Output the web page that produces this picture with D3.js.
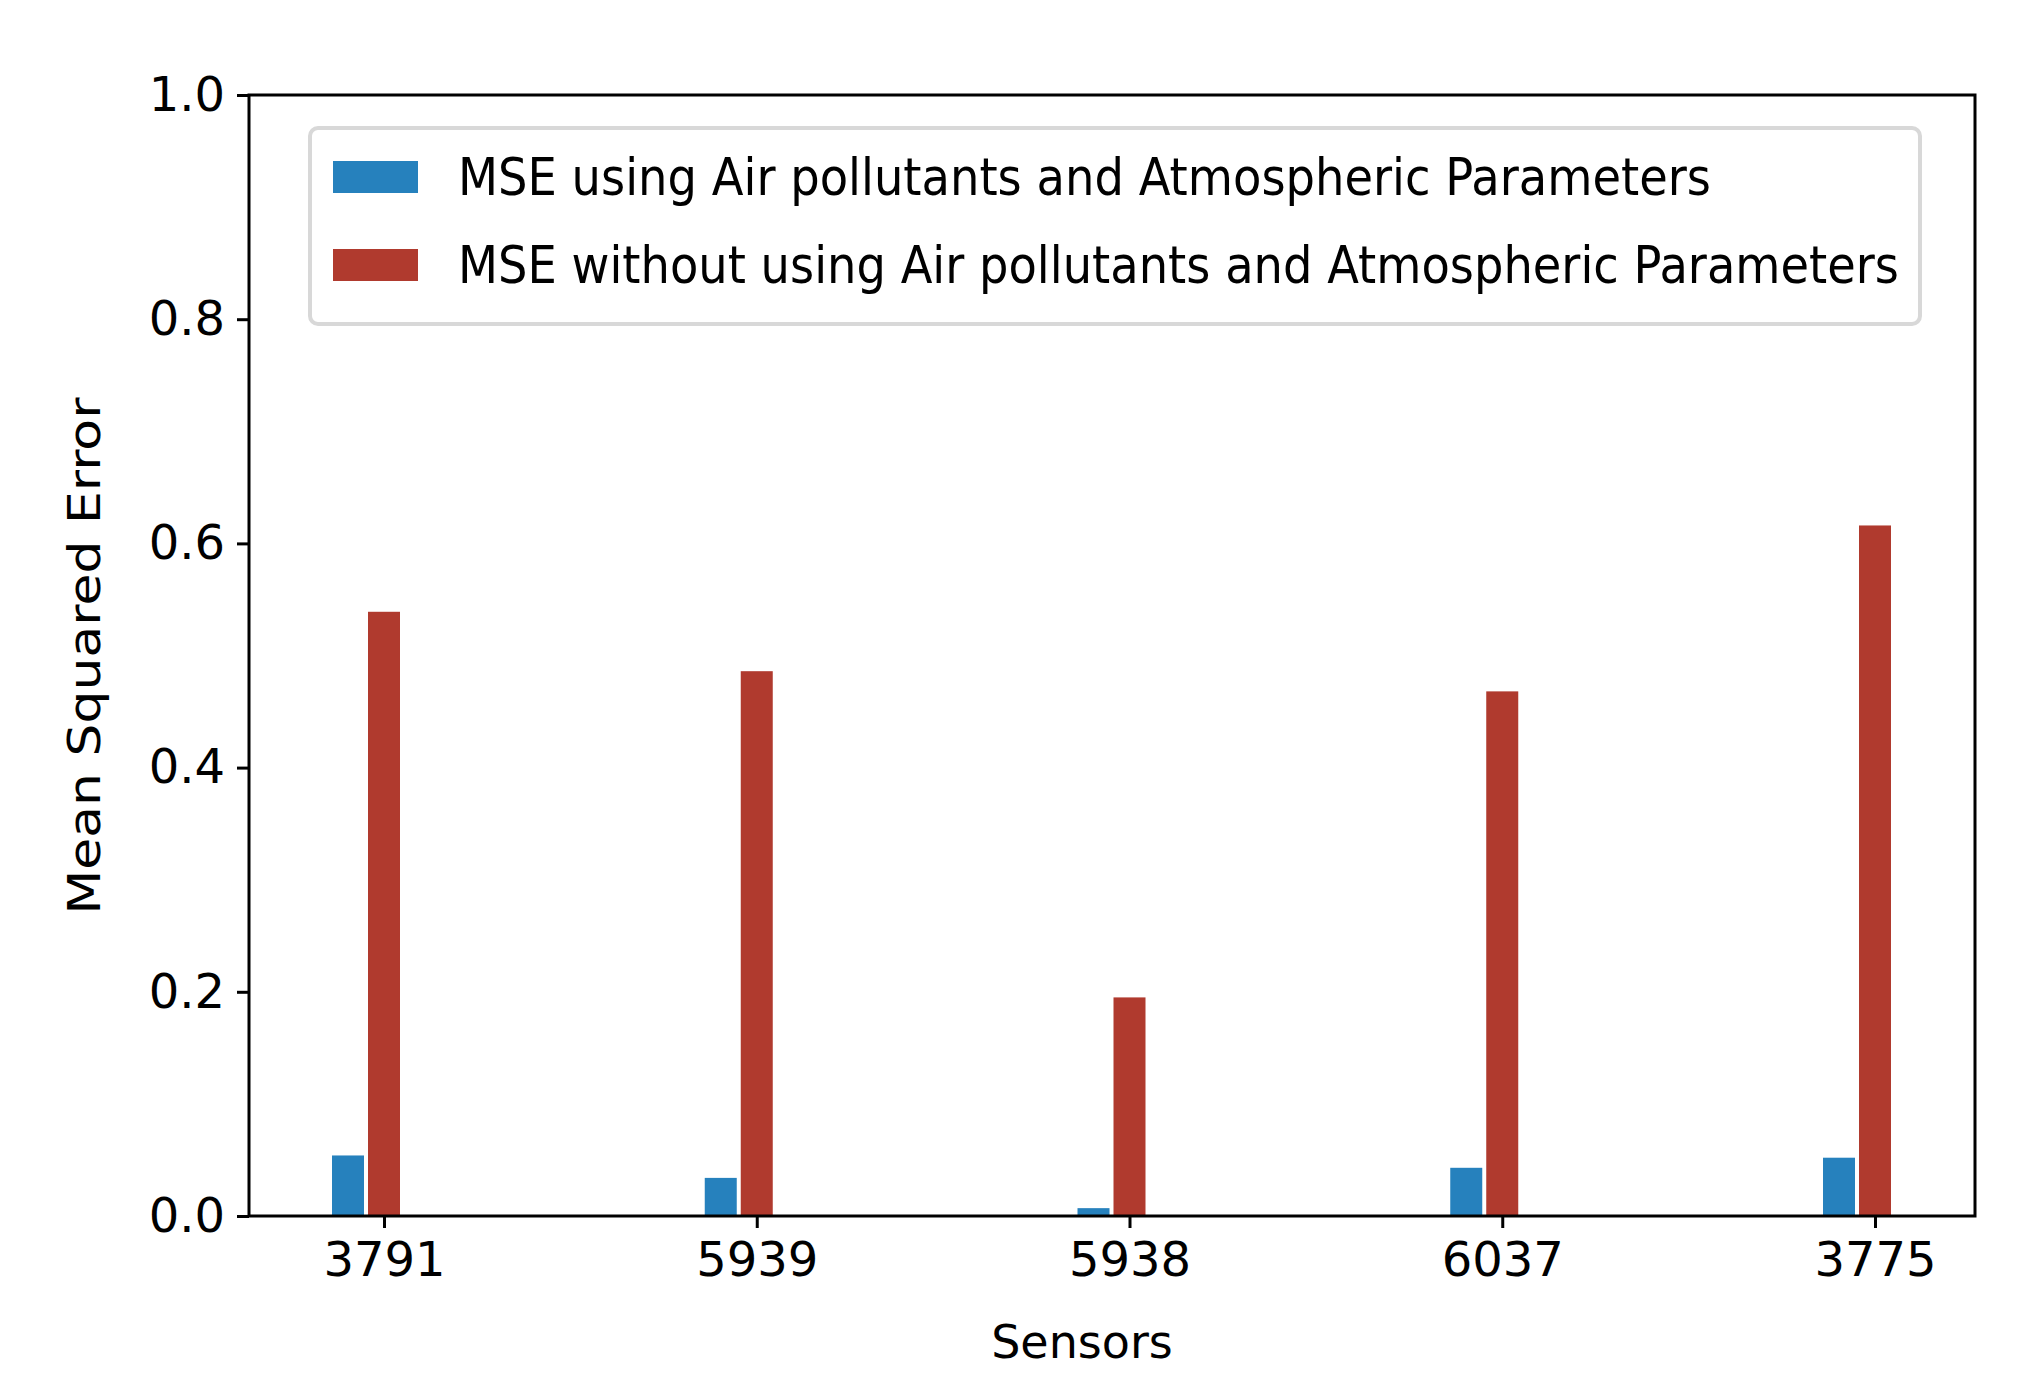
<!DOCTYPE html>
<html>
<head>
<meta charset="utf-8">
<script src="https://cdn.jsdelivr.net/npm/d3@7"></script>
<style>
  body { margin: 0; background: #fff; }
  text { font-family: "DejaVu Sans", sans-serif; fill: #000; }
</style>
</head>
<body>
<svg id="chart" width="2027" height="1387"></svg>
<script>
const sensors = ["3791", "5939", "5938", "6037", "3775"]
const mseWith = [0.054, 0.034, 0.007, 0.043, 0.052]
const mseWithout = [0.539, 0.486, 0.195, 0.468, 0.616]
const yTicks = [0.0, 0.2, 0.4, 0.6, 0.8, 1.0]
const seriesNames = [
    "MSE using Air pollutants and Atmospheric Parameters",
    "MSE without using Air pollutants and Atmospheric Parameters"
]
const colors = ["#2681bd", "#b03a2e"]

const svg = d3.select("#chart")
const plotLeft = 249, plotRight = 1975, plotTop = 95, plotBottom = 1216

// ticks sit at the band centres, the red bar is centred on the tick
const x = d3.scalePoint().domain(sensors).range([384, 1875])
const y = d3.scaleLinear().domain([0, 1]).range([plotBottom, plotTop])
const barW = 32

svg.append("g").selectAll("rect")
    .data(sensors)
    .enter().append("rect")
    .attr("x", d => x(d) - barW - 20)
    .attr("y", (d, i) => y(mseWith[i]))
    .attr("width", barW)
    .attr("height", (d, i) => plotBottom - y(mseWith[i]))
    .attr("fill", colors[0])

svg.append("g").selectAll("rect")
    .data(sensors)
    .enter().append("rect")
    .attr("x", d => x(d) - barW / 2)
    .attr("y", (d, i) => y(mseWithout[i]))
    .attr("width", barW)
    .attr("height", (d, i) => plotBottom - y(mseWithout[i]))
    .attr("fill", colors[1])

const xAxis = svg.append("g")
    .attr("transform", `translate(0,${plotBottom})`)
    .call(d3.axisBottom(x).tickSize(12).tickPadding(14))
xAxis.select(".domain").remove()
xAxis.selectAll("line").attr("stroke-width", 3)
xAxis.selectAll("text").style("font-size", "48px").attr("fill", "#000")

const yAxis = svg.append("g")
    .attr("transform", `translate(${plotLeft},0)`)
    .call(d3.axisLeft(y).tickValues(yTicks).tickFormat(d3.format(".1f")).tickSize(12).tickPadding(12))
yAxis.select(".domain").remove()
yAxis.selectAll("line").attr("stroke-width", 3)
yAxis.selectAll("text").style("font-size", "48px").attr("fill", "#000")

svg.append("rect")
    .attr("x", plotLeft).attr("y", plotTop)
    .attr("width", plotRight - plotLeft).attr("height", plotBottom - plotTop)
    .attr("fill", "none").attr("stroke", "#000").attr("stroke-width", 3)

svg.append("text")
    .attr("x", (plotLeft + plotRight) / 2 - 30).attr("y", 1358)
    .attr("text-anchor", "middle")
    .style("font-size", "46px")
    .text("Sensors")

svg.append("text")
    .attr("transform", "translate(100,656) rotate(-90)")
    .attr("text-anchor", "middle")
    .attr("textLength", 517).attr("lengthAdjust", "spacingAndGlyphs")
    .style("font-size", "44px")
    .text("Mean Squared Error")

// legend
const legend = svg.append("g")
legend.append("rect")
    .attr("x", 310).attr("y", 128).attr("width", 1610).attr("height", 196)
    .attr("rx", 8).attr("fill", "#fff").attr("stroke", "#d8d8d8").attr("stroke-width", 4)
const textLens = [1253, 1441]
seriesNames.forEach((name, i) => {
    const cy = 177 + i * 88
    legend.append("rect")
        .attr("x", 333).attr("y", cy - 16).attr("width", 85).attr("height", 32)
        .attr("fill", colors[i])
    legend.append("text")
        .attr("x", 458).attr("y", cy + 18)
        .attr("textLength", textLens[i]).attr("lengthAdjust", "spacingAndGlyphs")
        .style("font-size", "52px")
        .text(name)
})
</script>
</body>
</html>
